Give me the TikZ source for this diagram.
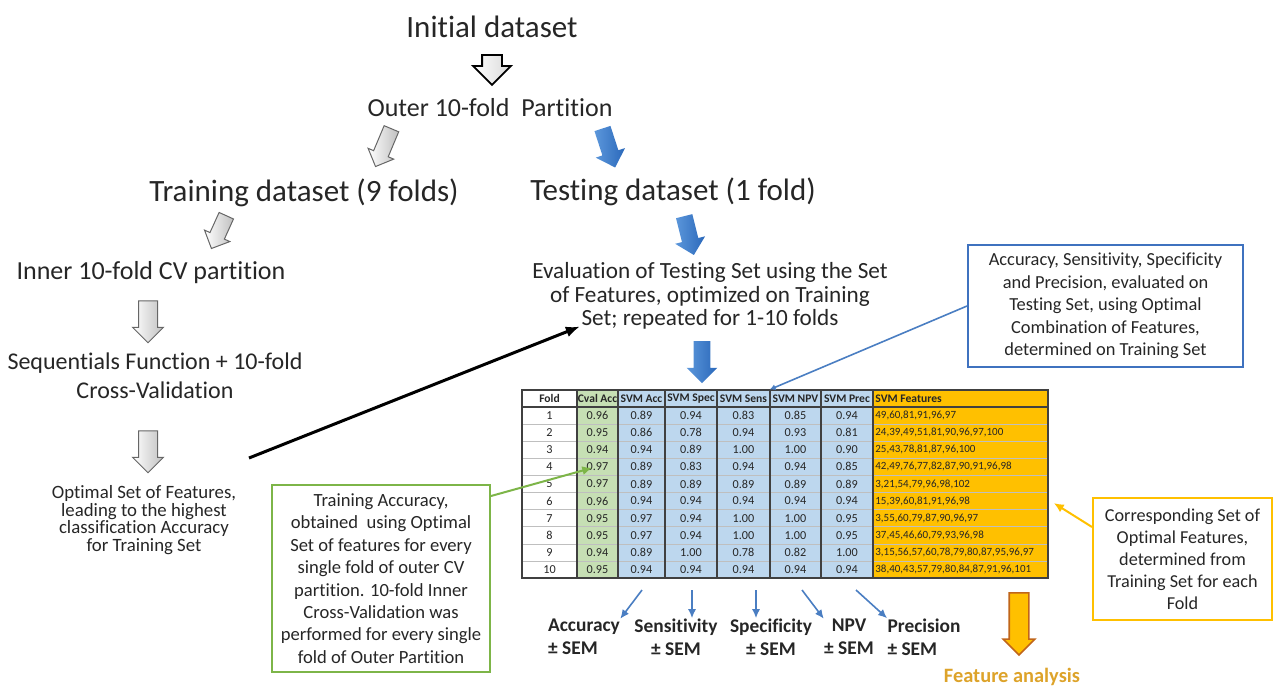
\documentclass[tikz,border=0pt]{standalone}
\usepackage{fontspec}
\setmainfont{Carlito}[Ligatures=NoCommon]
\usetikzlibrary{positioning,arrows.meta,calc,shapes.arrows}

\definecolor{txt}{HTML}{262626}
\definecolor{cvgreen}{HTML}{C6DFB4}
\definecolor{svmblue}{HTML}{BDD7EE}
\definecolor{featorange}{HTML}{FFC000}
\definecolor{orangeedge}{HTML}{C0651A}
\definecolor{boxblue}{HTML}{3F72BF}
\definecolor{boxgreen}{HTML}{7DB548}
\definecolor{arrblue}{HTML}{2A68BA}
\definecolor{arrbluelt}{HTML}{5C97DB}
\definecolor{lineblue}{HTML}{4A7EC2}
\definecolor{featgold}{HTML}{DDA32A}

\tikzstyle{bigtext}=[font=\fontsize{15.5}{18}\selectfont]
\tikzstyle{midtext}=[font=\fontsize{13}{15}\selectfont]
\tikzstyle{seqtext}=[font=\fontsize{12}{14.5}\selectfont, align=center]
\tikzstyle{evaltext}=[font=\fontsize{11.6}{11.6}\selectfont, align=center]
\tikzstyle{smalltext}=[font=\fontsize{9.4}{8.9}\selectfont, align=center]
\tikzstyle{callout}=[draw, line width=1pt, align=center, inner sep=0pt]
\tikzstyle{metric}=[font=\fontsize{9.7}{11.5}\selectfont\bfseries, align=center]
\tikzstyle{blockarrow}=[single arrow, inner xsep=0pt, single arrow tip angle=90]
\tikzstyle{grayarrow}=[blockarrow, draw=black!60, line width=0.5pt, left color=white, right color=black!25, inner ysep=4.5pt, single arrow head extend=3pt, minimum height=21pt]
\tikzstyle{bluearrow}=[blockarrow, left color=arrbluelt, right color=arrblue, inner ysep=4pt, single arrow head extend=3.5pt, minimum height=21pt]

\begin{document}
\begin{tikzpicture}[x=0.5pt,y=-0.5pt,>=latex, every node/.style={inner sep=0pt, text=txt}]

\tikzstyle{headcell}=[font=\fontsize{5.8}{6}\selectfont\bfseries, minimum height=8.5pt]
\tikzstyle{datacell}=[font=\fontsize{6.1}{6.5}\selectfont]
\tikzstyle{featcell}=[font=\fontsize{5.5}{6}\selectfont, anchor=west, text width=85.5pt, align=left, inner xsep=1pt]
\tikzstyle{rowline}=[black!25, line width=0.3pt]
\tikzstyle{colline}=[black!75, line width=0.6pt]

\useasboundingbox (0,0) rectangle (1274,686);

% Outer partition
\node [bigtext] (init) at (492,27) {Initial dataset};
\node [blockarrow, draw=black, line width=0.9pt, left color=white, right color=black!15,
  inner ysep=4.5pt, single arrow head extend=4.5pt, minimum height=15pt, rotate=-90] (a0) at (492,65) {};
\node [midtext] (outer) at (490,108) {Outer 10-fold\ \ Partition};
\node [grayarrow, inner ysep=3.7pt, rotate=-112.8, minimum height=20.5pt] (a1) at (385,144) {};
\node [bluearrow, rotate=-72, minimum height=20.5pt] (b1) at (607.5,144) {};
\node [bigtext] (train) at (304,193) {Training dataset (9 folds)};
\node [bigtext] (test) at (673,192) {Testing dataset (1 fold)};

% Training branch
\node [grayarrow, inner ysep=3.7pt, rotate=-114.4, minimum height=18pt] (a2) at (220.5,228.5) {};
\node [midtext] (inner) at (151,273) {Inner 10-fold CV partition};
\node [grayarrow, rotate=-90] (a3) at (148,317) {};
\node [seqtext] (seq) at (155,376) {Sequentials Function + 10-fold\\Cross-Validation};
\node [grayarrow, rotate=-90] (a4) at (148,447) {};
\node [smalltext] (optimal) at (144,520) {Optimal Set of Features,\\leading to the highest\\classification Accuracy\\for Training Set};

% Testing branch
\node [bluearrow, rotate=-76, minimum height=20pt] (b2) at (688,231.5) {};
\node [evaltext] (eval) at (710,296) {Evaluation of Testing Set using the Set\\of Features, optimized on Training\\Set; repeated for 1-10 folds};
\node [bluearrow, rotate=-90] (b3) at (702,358) {};

% optimal features go to the testing fold
\coordinate (optout) at (249,458);
\draw [-{Latex[length=7pt,width=5.5pt]}, line width=1.5pt, black] (optout) -- ($(eval.south west)+(48,-3)$);

% results table
\def\colx{{522,577,618,665,717,770,821,873,1048}}
\fill [white] (522,390) rectangle (577,578);
\fill [cvgreen] (577,390) rectangle (618,578);
\fill [svmblue] (618,390) rectangle (873,578);
\fill [featorange] (873,390) rectangle (1048,578);
\foreach \r in {1,...,9}
  \draw [rowline] (522,{407+17.1*\r}) -- (1048,{407+17.1*\r});
\draw [colline] (522,407) -- (1048,407);
\foreach \x in {577,618,665,717,770,821,873}
  \draw [colline] (\x,390) -- (\x,578);
\draw [colline] (522,390) rectangle (1048,578);

\foreach \h [count=\c] in {Fold,Cval Acc,SVM Acc,SVM Spec,SVM Sens,SVM NPV,SVM Prec} {
  \pgfmathsetmacro\xa{\colx[\c-1]}
  \pgfmathsetmacro\xb{\colx[\c]}
  \pgfmathsetmacro\colw{(\xb-\xa)/2}
  \node [headcell, minimum width=\colw pt] (h-\c) at ({(\xa+\xb)/2},398.5) {\h};
}
\node [headcell, anchor=west] (h-8) at (875,398.5) {SVM Features};

\foreach \row [count=\r] in {
  {1,0.96,0.89,0.94,0.83,0.85,0.94},
  {2,0.95,0.86,0.78,0.94,0.93,0.81},
  {3,0.94,0.94,0.89,1.00,1.00,0.90},
  {4,0.97,0.89,0.83,0.94,0.94,0.85},
  {5,0.97,0.89,0.89,0.89,0.89,0.89},
  {6,0.96,0.94,0.94,0.94,0.94,0.94},
  {7,0.95,0.97,0.94,1.00,1.00,0.95},
  {8,0.95,0.97,0.94,1.00,1.00,0.95},
  {9,0.94,0.89,1.00,0.78,0.82,1.00},
  {10,0.95,0.94,0.94,0.94,0.94,0.94}} {
  \foreach \v [count=\c] in \row {
    \pgfmathsetmacro\xa{\colx[\c-1]}
    \pgfmathsetmacro\xb{\colx[\c]}
    \node [datacell] (c-\r-\c) at ({(\xa+\xb)/2},{407+17.1*(\r-0.5)}) {\v};
  }
}

\foreach \f [count=\r] in {
  {49,60,81,91,96,97},
  {24,39,49,51,81,90,96,97,100},
  {25,43,78,81,87,96,100},
  {42,49,76,77,82,87,90,91,96,98},
  {3,21,54,79,96,98,102},
  {15,39,60,81,91,96,98},
  {3,55,60,79,87,90,96,97},
  {37,45,46,60,79,93,96,98},
  {3,15,56,57,60,78,79,80,87,95,96,97},
  {38,40,43,57,79,80,84,87,91,96,101}}
  \node [featcell] (f-\r) at (873,{407+17.1*(\r-0.5)}) {\f};

% callouts
\node [callout, draw=boxblue, minimum width=137.5pt, minimum height=61pt,
  font=\fontsize{9.2}{11.2}\selectfont] (bluebox) at (1105.5,306)
  {Accuracy, Sensitivity, Specificity\\and Precision, evaluated on\\Testing Set, using Optimal\\Combination of Features,\\determined on Training Set};
\draw [lineblue, line width=0.8pt, -{Latex[length=3pt,width=3pt]}] (bluebox.west) -- (h-6.north west);

\node [callout, draw=boxgreen, minimum width=109pt, minimum height=93.5pt,
  font=\fontsize{9.3}{11.2}\selectfont] (greenbox) at (381,578.5)
  {Training Accuracy,\\obtained\ \ using Optimal\\Set of features for every\\single fold of outer CV\\partition. 10-fold Inner\\Cross-Validation was\\performed for every single\\fold of Outer Partition};
\draw [boxgreen, line width=1pt, -{Latex[length=5pt,width=4.5pt]}] ([yshift=-6pt]greenbox.north east) -- ($(c-4-2.west)+(6,1)$);

\node [callout, draw=featorange, minimum width=89.5pt, minimum height=61pt,
  font=\fontsize{9.1}{11}\selectfont] (orangebox) at (1182.5,559)
  {Corresponding Set of\\Optimal Features,\\determined from\\Training Set for each\\Fold};
\draw [featorange, line width=1pt, -{Latex[length=5pt,width=4.5pt]}] ([yshift=16pt]orangebox.west) -- ($(f-6.east)+(5,2)$);

% feature analysis
\node [blockarrow, fill=featorange, draw=orangeedge, line width=0.8pt, inner ysep=4.5pt,
  single arrow head extend=3pt, minimum height=31pt, rotate=-90] (farr) at (1019,619) {};
\node [font=\fontsize{10.2}{12}\selectfont\bfseries, text=featgold] (feat) at (1012,677) {Feature analysis};

% test metrics
\node [metric, align=left] (acc) at (584,637) {Accuracy\\± SEM};
\node [metric] (sens) at (676,637) {Sensitivity\\± SEM};
\node [metric] (spec) at (771,637) {Specificity\\± SEM};
\node [metric] (npv) at (849,637) {NPV\\± SEM};
\node [metric, align=left] (prec) at (924,637) {Precision\\± SEM};
\coordinate (m1) at (642,590);
\coordinate (m2) at (692,590);
\coordinate (m3) at (756,590);
\coordinate (m4) at (802,590);
\coordinate (m5) at (856,590);
\draw [lineblue, line width=0.8pt, -{Latex[length=4.5pt,width=4pt]}] (m1) -- (acc.north east);
\draw [lineblue, line width=0.8pt, -{Latex[length=4.5pt,width=4pt]}] (m2) -- (m2 |- sens.north);
\draw [lineblue, line width=0.8pt, -{Latex[length=4.5pt,width=4pt]}] (m3) -- (m3 |- spec.north);
\draw [lineblue, line width=0.8pt, -{Latex[length=4.5pt,width=4pt]}] (m4) -- (npv.north west);
\draw [lineblue, line width=0.8pt, -{Latex[length=4.5pt,width=4pt]}] (m5) -- (prec.north west);

\end{tikzpicture}
\end{document}
